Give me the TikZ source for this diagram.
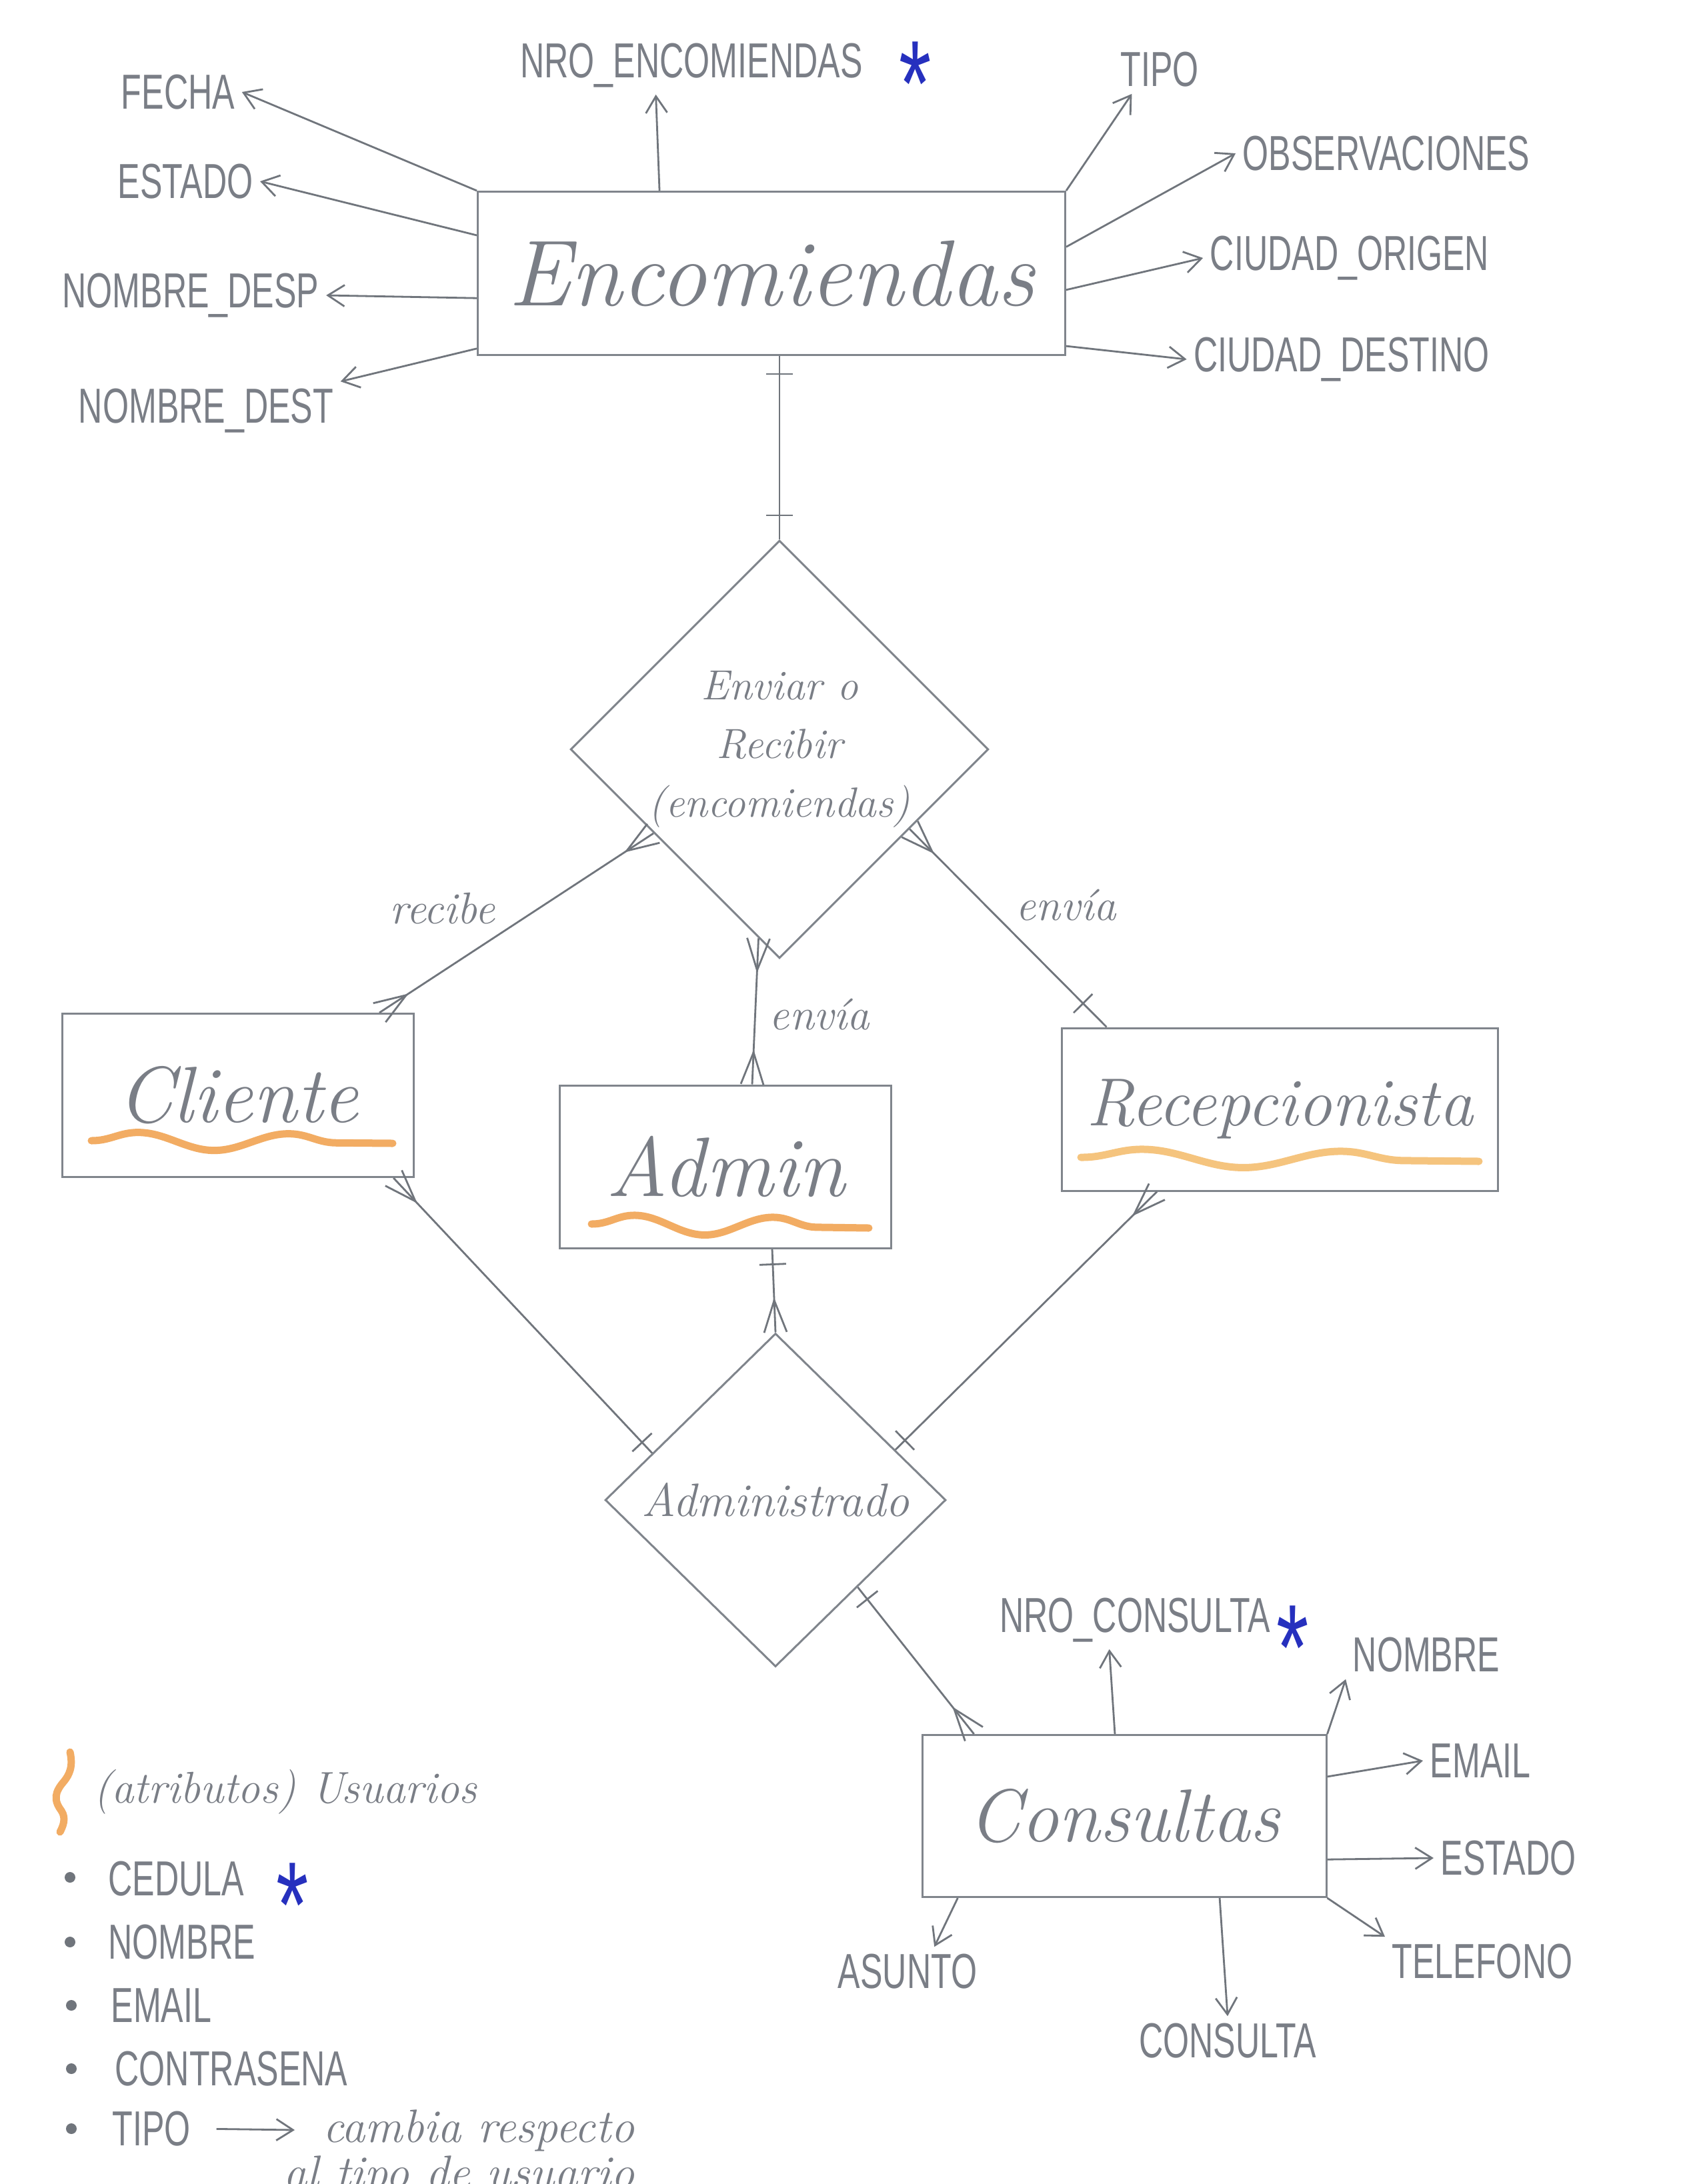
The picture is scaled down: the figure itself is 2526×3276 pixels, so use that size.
\documentclass[tikz,border=0pt]{standalone}
\usepackage{fontspec}
\usetikzlibrary{calc,shapes.geometric,arrows.meta,decorations.pathmorphing}
\newfontfamily\capsfont[FakeStretch=0.68]{Liberation Sans}
\definecolor{pencil}{RGB}{112,117,124}
\definecolor{boxline}{RGB}{128,133,140}
\definecolor{ink}{RGB}{122,126,134}
\definecolor{crayon}{RGB}{240,158,72}
\definecolor{crayonlight}{RGB}{244,186,104}
\definecolor{starblue}{RGB}{38,48,190}

\tikzset{
  conn/.style={draw=pencil, line width=0.28mm},
  attrarrow/.style={conn, -{Straight Barb[length=2.5mm,width=3.2mm]}},
  entity/.style={rectangle, draw=boxline, line width=0.3mm, inner sep=0pt, text=ink},
  rel/.style={diamond, draw=boxline, line width=0.3mm, inner sep=0pt, text=ink, align=center},
  attr/.style={font=\capsfont\fontsize{21}{25}\selectfont, text=ink, inner sep=1mm},
  hand/.style={font=\itshape\fontsize{19}{24}\selectfont, text=ink, inner sep=1mm},
  keystar/.style={font=\capsfont\fontsize{52}{52}\selectfont, text=starblue, inner sep=0pt, anchor=base},
  wave/.style={draw=crayon, line width=1.1mm, line cap=round, opacity=0.85, decorate},
  bullet/.style={circle, fill=pencil, inner sep=0pt, minimum size=1.6mm},
}
\newcommand\crowfoot[2]{%
  \coordinate (cfA) at ($(#1)!4.8mm!(#2)$);
  \draw[conn] ($(#1)!1.7mm!90:(#2)$) -- (cfA) -- ($(#1)!1.7mm!-90:(#2)$);
}
\newcommand\tickmark[3]{%
  \coordinate (tkA) at ($(#1)!#3!(#2)$);
  \draw[conn] ($(tkA)!2mm!90:(#2)$) -- ($(tkA)!2mm!-90:(#2)$);
}

\begin{document}
\begin{tikzpicture}[x=0.1mm,y=-0.1mm]
\useasboundingbox[fill=white] (0,0) rectangle (2526,3276);

% ---------- entities ----------
\node[entity, minimum width=88.1mm, minimum height=24.5mm, font=\itshape\fontsize{40}{44}\selectfont] (enc) at (1157,410) {Encomiendas};
\node[entity, minimum width=52.7mm, minimum height=24.5mm, font=\itshape\fontsize{34}{40}\selectfont] (cli) at (357,1643) {Cliente};
\node[entity, minimum width=49.7mm, minimum height=24.4mm, font=\itshape\fontsize{36}{40}\selectfont] (adm) at (1088,1750) {Admin};
\node[entity, minimum width=65.4mm, minimum height=24.4mm, font=\itshape\fontsize{29}{34}\selectfont] (rec) at (1919,1664) {Recepcionista};
\node[entity, minimum width=60.6mm, minimum height=24.3mm, font=\itshape\fontsize{32}{36}\selectfont] (con) at (1686,2724) {Consultas};

% ---------- relationships ----------
\node[rel, minimum width=62mm, minimum height=61.8mm, font=\itshape\fontsize{18}{25}\selectfont] (d1) at (1169,1124) {Enviar o\\Recibir\\(encomiendas)};
\node[rel, minimum width=51.1mm, minimum height=50mm, font=\itshape\fontsize{20}{24}\selectfont] (d2) at (1163,2250) {Administrado};

% ---------- orange underlines ----------
\draw[wave, decoration={snake, amplitude=1.3mm, segment length=22.6mm}] ($(cli.center)+(-220,68)$) -- ($(cli.center)+(232,72)$);
\draw[wave, decoration={snake, amplitude=1.4mm, segment length=20.8mm}] ($(adm.center)+(-201,86)$) -- ($(adm.center)+(215,92)$);
\draw[wave, draw=crayonlight, decoration={snake, amplitude=1.3mm, segment length=29.8mm}] ($(rec.center)+(-298,72)$) -- ($(rec.center)+(299,78)$);

% ---------- Encomiendas attributes ----------
\node[attr] (fecha) at (267,138) {FECHA};
\node[attr] (estado) at (278,272) {ESTADO};
\node[attr] (ndesp) at (286,443) {NOMBRE\_DESP};
\node[attr] (ndest) at (309,616) {NOMBRE\_DEST};
\node[attr] (nroenc) at (1037,98) {NRO\_ENCOMIENDAS};
\node[keystar] (star1) at (1373,188) {*};
\node[attr] (tipo) at (1739,104) {TIPO};
\node[attr] (obs) at (2079,230) {OBSERVACIONES};
\node[attr] (corig) at (2024,387) {CIUDAD\_ORIGEN};
\node[attr] (cdest) at (2012,539) {CIUDAD\_DESTINO};

\draw[attrarrow] (enc.north west) -- (fecha.east);
\draw[attrarrow] ($(enc.north west)!0.27!(enc.south west)$) -- (estado.east);
\draw[attrarrow] ($(enc.north west)!0.65!(enc.south west)$) -- (ndesp.east);
\draw[attrarrow] ($(enc.north west)!0.955!(enc.south west)$) -- (ndest.north east);
\draw[attrarrow] ($(enc.north west)!0.31!(enc.north east)$) -- ($(nroenc.south west)!0.4!(nroenc.south east)$);
\draw[attrarrow] (enc.north east) -- ($(tipo.south west)!0.2!(tipo.south east)$);
\draw[attrarrow] ($(enc.north east)!0.34!(enc.south east)$) -- (obs.west);
\draw[attrarrow] ($(enc.north east)!0.6!(enc.south east)$) -- (corig.west);
\draw[attrarrow] ($(enc.north east)!0.94!(enc.south east)$) -- (cdest.west);

% ---------- Consultas attributes ----------
\node[attr] (nrocon) at (1702,2430) {NRO\_CONSULTA};
\node[keystar] (star2) at (1939,2534) {*};
\node[attr] (nombre) at (2139,2482) {NOMBRE};
\node[attr] (email) at (2220,2641) {EMAIL};
\node[attr] (estado2) at (2262,2787) {ESTADO};
\node[attr] (telefono) at (2223,2942) {TELEFONO};
\node[attr] (consulta) at (1841,3061) {CONSULTA};
\node[attr] (asunto) at (1361,2957) {ASUNTO};

\draw[attrarrow] ($(con.north west)!0.477!(con.north east)$) -- ($(nrocon.south west)!0.41!(nrocon.south east)$);
\draw[attrarrow] (con.north east) -- (nombre.south west);
\draw[attrarrow] ($(con.north east)!0.26!(con.south east)$) -- (email.west);
\draw[attrarrow] ($(con.north east)!0.765!(con.south east)$) -- (estado2.west);
\draw[attrarrow] (con.south east) -- (telefono.north west);
\draw[attrarrow] ($(con.south west)!0.735!(con.south east)$) -- (consulta.north);
\draw[attrarrow] ($(con.south west)!0.09!(con.south east)$) -- ($(asunto.north)!0.35!(asunto.north east)$);

% ---------- relationship connectors ----------
\coordinate (e1a) at (enc.south -| d1.north);
\coordinate (e1b) at (d1.north);
\draw[conn] (e1a) -- (e1b);
\tickmark{e1a}{e1b}{2.7mm}
\tickmark{e1b}{e1a}{3.6mm}

\coordinate (r1a) at ($(d1.west)!0.4!(d1.south)$);
\coordinate (r1b) at ($(cli.north west)!0.9!(cli.north east)$);
\draw[conn] (r1a) -- node[hand, pos=0.55, anchor=south east] (lrecibe) {recibe} (r1b);
\crowfoot{r1a}{r1b}
\crowfoot{r1b}{r1a}

\coordinate (r2a) at ($(d1.west)!0.9!(d1.south)$);
\coordinate (r2b) at ($(adm.north west)!0.58!(adm.north east)$);
\draw[conn] (r2a) -- node[hand, pos=0.52, anchor=west, inner sep=2mm] (lenvia1) {envía} (r2b);
\crowfoot{r2a}{r2b}
\crowfoot{r2b}{r2a}

\coordinate (r3a) at ($(d1.east)!0.38!(d1.south)$);
\coordinate (r3b) at ($(rec.north west)!0.105!(rec.north east)$);
\draw[conn] (r3a) -- node[hand, pos=0.5, anchor=south west] (lenvia2) {envía} (r3b);
\crowfoot{r3a}{r3b}
\tickmark{r3b}{r3a}{5mm}

\coordinate (a1a) at ($(cli.south west)!0.94!(cli.south east)$);
\coordinate (a1b) at ($(d2.west)!0.28!(d2.north)$);
\draw[conn] (a1a) -- (a1b);
\crowfoot{a1a}{a1b}
\tickmark{a1b}{a1a}{2.2mm}

\coordinate (a2a) at ($(adm.south west)!0.64!(adm.south east)$);
\coordinate (a2b) at (d2.north);
\draw[conn] (a2a) -- (a2b);
\tickmark{a2a}{a2b}{2.3mm}
\crowfoot{a2b}{a2a}

\coordinate (a3a) at ($(rec.south west)!0.22!(rec.south east)$);
\coordinate (a3b) at ($(d2.east)!0.3!(d2.north)$);
\draw[conn] (a3a) -- (a3b);
\crowfoot{a3a}{a3b}
\tickmark{a3b}{a3a}{2mm}

\coordinate (a4a) at ($(d2.east)!0.52!(d2.south)$);
\coordinate (a4b) at ($(con.north west)!0.13!(con.north east)$);
\draw[conn] (a4a) -- (a4b);
\tickmark{a4a}{a4b}{2.3mm}
\crowfoot{a4b}{a4a}

% ---------- legend ----------
\draw[draw=crayon, line width=1.1mm, line cap=round, opacity=0.85]
  (105,2628) .. controls (110,2650) and (104,2662) .. (96,2672)
  .. controls (82,2688) and (80,2700) .. (92,2716)
  .. controls (100,2728) and (94,2740) .. (90,2748);
\node[hand, font=\itshape\fontsize{19}{24}\selectfont, anchor=west] (usuarios) at (130,2688) {(atributos) Usuarios};

\node[bullet] (b1) at (105,2816) {};
\node[bullet] (b2) at (105,2913) {};
\node[bullet] (b3) at (107,3008) {};
\node[bullet] (b4) at (107,3103) {};
\node[bullet] (b5) at (107,3193) {};
\node[attr, anchor=west] (cedula) at (152,2818) {CEDULA};
\node[keystar] (star3) at (439,2920) {*};
\node[attr, anchor=west] (lnombre) at (152,2913) {NOMBRE};
\node[attr, anchor=west] (lemail) at (156,3008) {EMAIL};
\node[attr, anchor=west] (lcontra) at (162,3103) {CONTRASENA};
\node[attr, anchor=west] (ltipo) at (158,3193) {TIPO};
\node[hand, font=\itshape\fontsize{20}{24}\selectfont, anchor=base west] (cambia) at (474,3213) {cambia respecto};
\node[hand, font=\itshape\fontsize{20}{24}\selectfont, anchor=base west] (altipo) at (415,3282) {al tipo de usuario};
\draw[attrarrow, shorten <=2.8mm, shorten >=3.2mm] (ltipo.east) -- (cambia.west);

\end{tikzpicture}
\end{document}
